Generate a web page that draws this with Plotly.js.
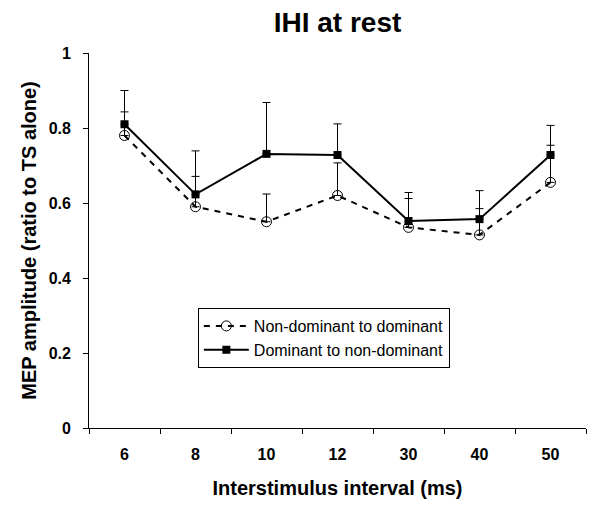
<!DOCTYPE html>
<html>
<head>
<meta charset="utf-8">
<script src="https://cdn.plot.ly/plotly-3.0.1.min.js"></script>
<style>
  html, body { margin: 0; padding: 0; background: #fff; }
  #chartDiv { width: 600px; height: 515px; }
</style>
</head>
<body>
<div id="chartDiv"></div>
<script>
// interstimulus intervals (ms), used as categories
var intervals = ['6', '8', '10', '12', '30', '40', '50'];

// non-dominant to dominant: mean ratio and upper error
var ndMean = [0.78, 0.59, 0.55, 0.62, 0.535, 0.515, 0.655];
var ndErr = [0.063, 0.081, 0.074, 0.087, 0.077, 0.07, 0.099];

// dominant to non-dominant: mean ratio and upper error
var dMean = [0.81, 0.623, 0.731, 0.728, 0.552, 0.557, 0.728];
var dErr = [0.09, 0.116, 0.137, 0.083, 0.076, 0.076, 0.079];

var zeros = intervals.map(function () { return 0; }); // only upper bars drawn

var font = '"Liberation Sans", Arial, sans-serif';

var ndTrace = {
    x: intervals,
    y: ndMean,
    type: 'scatter',
    mode: 'lines+markers',
    name: 'Non-dominant to dominant',
    line: { color: '#000', width: 2, dash: '6px,6px' },
    marker: { symbol: 'circle-open', size: 10, color: '#000', line: { width: 1, color: '#000' } },
    error_y: { type: 'data', symmetric: false, array: ndErr, arrayminus: zeros, color: '#000', thickness: 1, width: 4 }
};

var dTrace = {
    x: intervals,
    y: dMean,
    type: 'scatter',
    mode: 'lines+markers',
    name: 'Dominant to non-dominant',
    line: { color: '#000', width: 2 },
    marker: { symbol: 'square', size: 8, color: '#000' },
    error_y: { type: 'data', symmetric: false, array: dErr, arrayminus: zeros, color: '#000', thickness: 1, width: 4 }
};

var layout = {
    width: 600,
    height: 515,
    margin: { l: 89, r: 14, t: 53, b: 87 },
    paper_bgcolor: '#fff',
    plot_bgcolor: '#fff',
    font: { family: font, color: '#000' },
    title: {
        text: '<b>IHI at rest</b>',
        font: { size: 28, family: font, color: '#000' },
        x: 0.5, xref: 'paper',
        y: 1 - 22 / 515, yanchor: 'middle'
    },
    xaxis: {
        type: 'category',
        range: [-0.5, 6.5],
        showline: true, linecolor: '#000', linewidth: 1,
        ticks: 'outside', ticklen: 5, tickcolor: '#000', tickson: 'boundaries',
        ticklabelstandoff: 12,
        showgrid: false, zeroline: false,
        tickfont: { size: 16, family: font, weight: 'bold' },
        title: { text: '<b>Interstimulus interval (ms)</b>', font: { size: 20, family: font }, standoff: 18 }
    },
    yaxis: {
        range: [0, 1],
        dtick: 0.2,
        showline: true, linecolor: '#000', linewidth: 1,
        ticks: 'outside', ticklen: 5, tickcolor: '#000',
        ticksuffix: '\u00a0\u00a0',
        showgrid: false, zeroline: false,
        tickfont: { size: 16, family: font, weight: 'bold' },
        title: { text: '<b>MEP amplitude (ratio to TS alone)</b>', font: { size: 20, family: font }, standoff: 6 }
    },
    showlegend: true,
    legend: {
        x: 0.219, y: 0.32, xanchor: 'left', yanchor: 'top',
        bgcolor: '#fff', bordercolor: '#000', borderwidth: 1,
        font: { size: 16, family: font },
        itemwidth: 45,
        tracegroupgap: 0
    }
};

Plotly.newPlot('chartDiv', [ndTrace, dTrace], layout, { displayModeBar: false, staticPlot: true });
</script>
</body>
</html>
